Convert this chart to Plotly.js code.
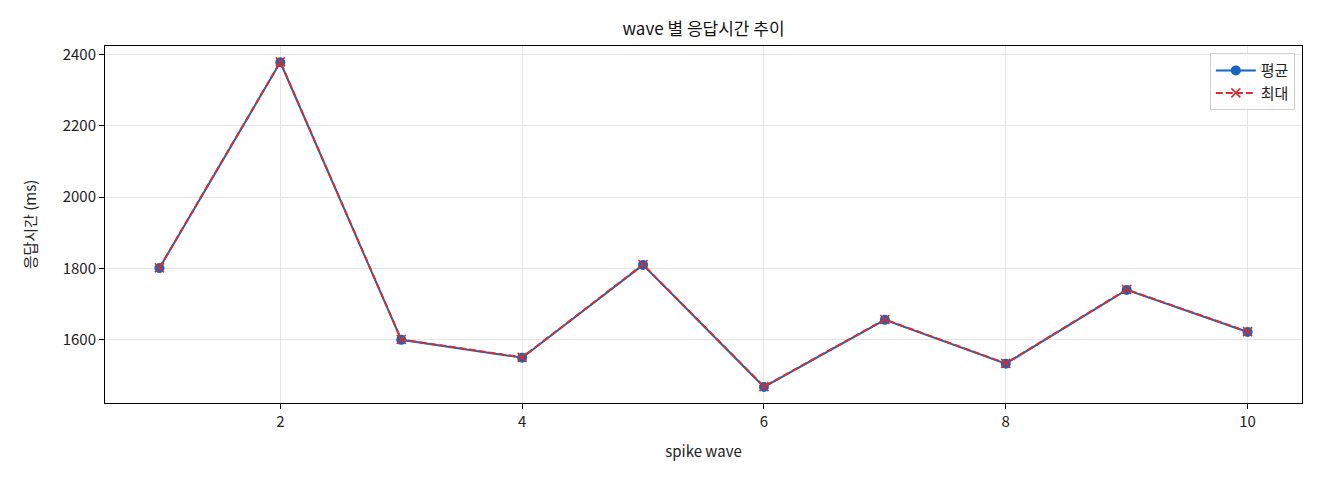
<!DOCTYPE html>
<html>
<head>
<meta charset="utf-8">
<script src="https://cdn.plot.ly/plotly-3.0.1.min.js"></script>
<style>
  body { margin: 0; background: #fff; }
  #chart { width: 1320px; height: 480px; }
</style>
</head>
<body>
<div id="chart"></div>
<script>
// wave 번호
var waves = [1, 2, 3, 4, 5, 6, 7, 8, 9, 10];
// 평균 응답시간 (ms)
var avgMs = [1801, 2378, 1600, 1550, 1810, 1468, 1656, 1533, 1740, 1622];
// 최대 응답시간 (ms)
var maxMs = [1802, 2379, 1601, 1551, 1811, 1469, 1657, 1534, 1741, 1623];

var fontFam = '"Noto Sans CJK KR", "DejaVu Sans", sans-serif';

var traceAvg = {
  x: waves,
  y: avgMs,
  name: '평균',
  type: 'scatter',
  mode: 'lines+markers',
  line: { color: '#1565c0', width: 2 },
  marker: { symbol: 'circle', size: 10, color: '#1565c0' }
};

var traceMax = {
  x: waves,
  y: maxMs,
  name: '최대',
  type: 'scatter',
  mode: 'lines+markers',
  line: { color: '#d32f2f', width: 2, dash: '7px,3px' },
  marker: { symbol: 'x-thin', size: 9, line: { color: '#d32f2f', width: 1.6 }, color: '#d32f2f' }
};

var layout = {
  width: 1320,
  height: 480,
  paper_bgcolor: '#fff',
  plot_bgcolor: '#fff',
  margin: { l: 105, r: 18, t: 46, b: 77 },
  font: { family: fontFam, size: 13, color: '#222' },
  title: {
    text: 'wave 별 응답시간 추이',
    font: { family: fontFam, size: 17, color: '#111' },
    x: 0.5, xref: 'paper', y: 0.94, yref: 'container', yanchor: 'middle'
  },
  showlegend: true,
  legend: {
    x: 0.994, y: 0.98, xanchor: 'right', yanchor: 'top',
    bgcolor: 'rgba(255,255,255,0.8)',
    bordercolor: '#d0d0d0', borderwidth: 1,
    font: { family: fontFam, size: 15 },
    itemwidth: 40
  },
  xaxis: {
    range: [0.55, 10.45],
    tick0: 0, dtick: 2,
    ticks: 'outside', ticklen: 5, tickcolor: '#000',
    showline: true, linecolor: '#000', linewidth: 1, mirror: true,
    showgrid: true, gridcolor: '#e5e5e5', gridwidth: 1,
    zeroline: false,
    tickfont: { family: fontFam, size: 15, color: '#222' },
    title: { text: 'spike wave', font: { family: fontFam, size: 15 }, standoff: 16 }
  },
  yaxis: {
    range: [1423, 2423.5],
    tick0: 0, dtick: 200,
    ticks: 'outside', ticklen: 5, tickcolor: '#000',
    showline: true, linecolor: '#000', linewidth: 1, mirror: true,
    showgrid: true, gridcolor: '#e5e5e5', gridwidth: 1,
    zeroline: false,
    tickfont: { family: fontFam, size: 15, color: '#222' },
    title: { text: '응답시간 (ms)', font: { family: fontFam, size: 15 }, standoff: 22 }
  }
};

Plotly.newPlot('chart', [traceAvg, traceMax], layout, { displayModeBar: false, staticPlot: true });
</script>
</body>
</html>
